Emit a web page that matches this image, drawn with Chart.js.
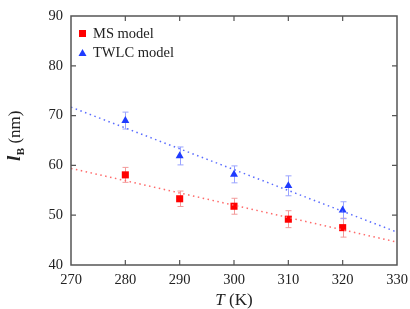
<!DOCTYPE html>
<html>
<head>
<meta charset="utf-8">
<script src="https://cdn.jsdelivr.net/npm/chart.js@4/dist/chart.umd.min.js"></script>
<style>
  html, body { margin: 0; padding: 0; background: #fff; }
  #wrap { width: 410px; height: 309px; }
</style>
</head>
<body>
<div id="wrap"><canvas id="grafico" width="410" height="309"></canvas></div>
<script>
// dados
const temperaturas = [280, 290, 300, 310, 320];
const msValores = [58.1, 53.3, 51.8, 49.2, 47.5];
const msErros = [1.5, 1.55, 1.6, 1.7, 1.9];
const twlcValores = [69.0, 61.9, 58.2, 55.9, 51.0];
const twlcErros = [1.7, 1.8, 1.7, 2.0, 1.7];

// retas de ajuste (extremos em T = 270 e 330)
const ajusteT = [270, 330];
const msAjuste = [59.4, 44.6];
const twlcAjuste = [71.7, 46.6];

const legendas = ["MS model", "TWLC model"];
const ticksX = [270, 280, 290, 300, 310, 320, 330];
const ticksY = [40, 50, 60, 70, 80, 90];

const serif = "'Liberation Serif', 'Times New Roman', serif";
const corVermelha = "#ff0000";
const corAzul = "#1f3bff";

const pontos = (xs, ys) => xs.map((x, i) => ({ x: x, y: ys[i] }));

// moldura, ticks internos, barras de erro, legenda e títulos
const extras = {
  id: "extras",
  beforeDatasetsDraw(chart) {
    const { ctx, scales: { x, y } } = chart;
    ctx.save();
    ctx.lineWidth = 1;
    const barras = [[msValores, msErros, "#f39a9a"], [twlcValores, twlcErros, "#9aa4ff"]];
    barras.forEach(([vals, errs, cor]) => {
      ctx.strokeStyle = cor;
      temperaturas.forEach((t, i) => {
        const px = Math.round(x.getPixelForValue(t)) + 0.5;
        const y1 = y.getPixelForValue(vals[i] + errs[i]);
        const y2 = y.getPixelForValue(vals[i] - errs[i]);
        ctx.beginPath();
        ctx.moveTo(px, y1); ctx.lineTo(px, y2);
        ctx.moveTo(px - 3, y1); ctx.lineTo(px + 3, y1);
        ctx.moveTo(px - 3, y2); ctx.lineTo(px + 3, y2);
        ctx.stroke();
      });
    });
    ctx.restore();
  },
  afterDraw(chart) {
    const { ctx, chartArea: a, scales: { x, y } } = chart;
    ctx.save();
    ctx.strokeStyle = "#555";
    ctx.lineWidth = 1.5;
    ctx.strokeRect(a.left, a.top, a.right - a.left, a.bottom - a.top);
    ctx.lineWidth = 1.2;
    ctx.beginPath();
    ticksX.slice(1, -1).forEach(t => {
      const px = x.getPixelForValue(t);
      ctx.moveTo(px, a.bottom); ctx.lineTo(px, a.bottom - 5);
      ctx.moveTo(px, a.top); ctx.lineTo(px, a.top + 5);
    });
    ticksY.slice(1, -1).forEach(v => {
      const py = y.getPixelForValue(v);
      ctx.moveTo(a.left, py); ctx.lineTo(a.left + 5, py);
      ctx.moveTo(a.right, py); ctx.lineTo(a.right - 5, py);
    });
    ctx.stroke();

    // legenda
    ctx.fillStyle = corVermelha;
    ctx.fillRect(a.left + 8, a.top + 14, 7, 7);
    ctx.fillStyle = corAzul;
    ctx.beginPath();
    ctx.moveTo(a.left + 11.5, a.top + 33);
    ctx.lineTo(a.left + 15.5, a.top + 40);
    ctx.lineTo(a.left + 7.5, a.top + 40);
    ctx.closePath();
    ctx.fill();
    ctx.fillStyle = "#222";
    ctx.font = "14.5px " + serif;
    ctx.textBaseline = "middle";
    ctx.fillText(legendas[0], a.left + 22, a.top + 18);
    ctx.fillText(legendas[1], a.left + 22, a.top + 37);

    // título do eixo x
    ctx.textBaseline = "alphabetic";
    ctx.font = "italic 17px " + serif;
    const wT = ctx.measureText("T").width;
    ctx.font = "17px " + serif;
    const wK = ctx.measureText(" (K)").width;
    let cx = (a.left + a.right) / 2 - (wT + wK) / 2;
    ctx.font = "italic 17px " + serif;
    ctx.fillText("T", cx, 305);
    ctx.font = "17px " + serif;
    ctx.fillText(" (K)", cx + wT, 305);

    // título do eixo y
    ctx.translate(20, 136);
    ctx.rotate(-Math.PI / 2);
    ctx.font = "bold italic 19px " + serif;
    const wl = ctx.measureText("l").width;
    ctx.font = "bold 11px " + serif;
    const wB = ctx.measureText("B").width;
    ctx.font = "17px " + serif;
    const wnm = ctx.measureText(" (nm)").width;
    let sx = -(wl + wB + wnm) / 2;
    ctx.font = "bold italic 19px " + serif;
    ctx.fillText("l", sx, 0);
    ctx.font = "bold 11px " + serif;
    ctx.fillText("B", sx + wl + 0.5, 4);
    ctx.font = "17px " + serif;
    ctx.fillText(" (nm)", sx + wl + wB + 0.5, 0);
    ctx.restore();
  }
};

new Chart(document.getElementById("grafico"), {
  type: "scatter",
  data: {
    datasets: [
      {
        label: "ajuste MS",
        type: "line",
        data: pontos(ajusteT, msAjuste),
        borderColor: "#ff6a6a",
        borderWidth: 1.5,
        borderDash: [1.5, 3.5],
        pointRadius: 0,
        fill: false
      },
      {
        label: "ajuste TWLC",
        type: "line",
        data: pontos(ajusteT, twlcAjuste),
        borderColor: "#5a6cff",
        borderWidth: 1.5,
        borderDash: [1.5, 3.5],
        pointRadius: 0,
        fill: false
      },
      {
        label: legendas[0],
        data: pontos(temperaturas, msValores),
        pointStyle: "rect",
        pointRadius: 5,
        backgroundColor: corVermelha,
        borderColor: corVermelha,
        borderWidth: 0
      },
      {
        label: legendas[1],
        data: pontos(temperaturas, twlcValores),
        pointStyle: "triangle",
        pointRadius: 4.6,
        backgroundColor: corAzul,
        borderColor: corAzul,
        borderWidth: 0
      }
    ]
  },
  options: {
    responsive: false,
    animation: false,
    layout: { padding: { left: 0, top: 16, right: 13, bottom: 0 } },
    plugins: { legend: { display: false }, tooltip: { enabled: false } },
    scales: {
      x: {
        type: "linear",
        min: 270, max: 330,
        grid: { display: false, drawTicks: false, tickLength: 0 },
        border: { display: false },
        ticks: {
          stepSize: 10, padding: 6, color: "#222",
          font: { family: serif, size: 14.5 },
          maxRotation: 0
        },
        afterFit(scale) { scale.height = 44; scale.paddingLeft = 0; scale.paddingRight = 0; }
      },
      y: {
        min: 40, max: 90,
        grid: { display: false, drawTicks: false, tickLength: 0 },
        border: { display: false },
        ticks: {
          stepSize: 10, padding: 8, color: "#222",
          font: { family: serif, size: 14.5 }
        },
        afterFit(scale) { scale.width = 71; scale.paddingTop = 0; scale.paddingBottom = 0; }
      }
    }
  },
  plugins: [extras]
});
</script>
</body>
</html>
